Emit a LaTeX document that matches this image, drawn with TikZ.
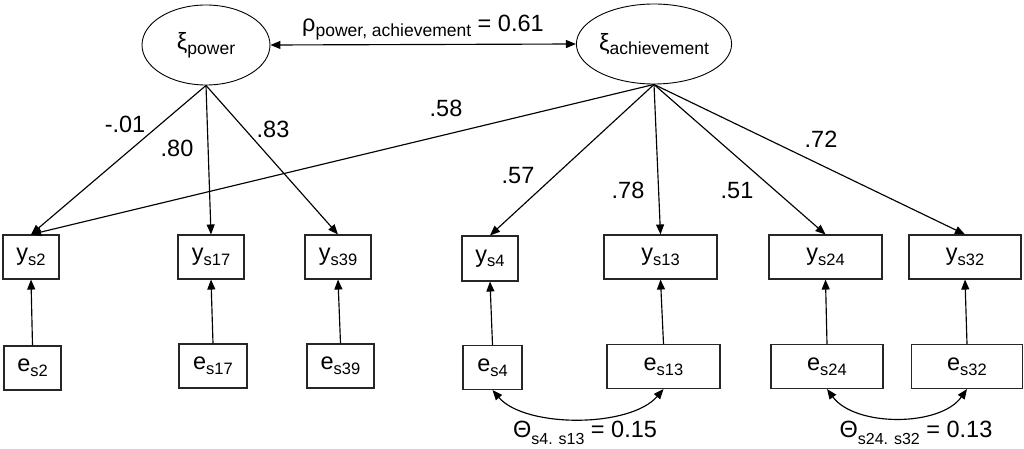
\documentclass[tikz,border=0pt]{standalone}
\usepackage{fontspec}
\setmainfont{Liberation Sans}
\usetikzlibrary{shapes.geometric,arrows.meta}
\newcommand{\sbs}[1]{\raisebox{-0.2em}{\fontsize{16.5}{17}\selectfont #1}}
\newcommand{\sbl}[1]{\raisebox{-0.2em}{\fontsize{17.5}{18}\selectfont #1}}
\newcommand{\sbt}[1]{\raisebox{-0.33em}{\fontsize{16}{16}\selectfont #1}}
\begin{document}
\begin{tikzpicture}[x=1pt,y=-1pt,
  font=\fontsize{23.5}{26}\selectfont,
  lat/.style={draw, ellipse, line width=0.9pt, minimum width=128pt, minimum height=80pt, inner sep=0pt},
  obs/.style={draw=black!85, line width=1.1pt, minimum height=44pt, inner sep=0pt},
  arr/.style={-{Triangle[length=10pt,width=8pt]}, line width=1.15pt},
  darr/.style={{Triangle[length=10pt,width=8pt]}-{Triangle[length=10pt,width=8pt]}, line width=1.15pt},
  lab/.style={anchor=base, inner sep=0pt}]
\useasboundingbox (0,0) rectangle (1024,449);

% latent variables
\node[lat] (xp) at (206,45) {ξ\sbl{power}};
\node[lat] (xa) at (654,44) {ξ\sbl{achievement}};

% indicators
\node[obs, minimum width=56pt] (ys2)  at (31,257)  {y\sbs{s2}};
\node[obs, minimum width=66pt] (ys17) at (211,257) {y\sbs{s17}};
\node[obs, minimum width=66pt] (ys39) at (338,257) {y\sbs{s39}};
\node[obs, minimum width=56pt, minimum height=45pt] (ys4) at (490,258.5) {y\sbs{s4}};
\node[obs, minimum width=113pt] (ys13) at (660.5,257) {y\sbs{s13}};
\node[obs, minimum width=113pt] (ys24) at (825.5,257) {y\sbs{s24}};
\node[obs, minimum width=112pt] (ys32) at (965,257) {y\sbs{s32}};

% errors
\node[obs, minimum width=57pt] (es2)  at (32.5,368) {e\sbs{s2}};
\node[obs, minimum width=68pt] (es17) at (213,366) {e\sbs{s17}};
\node[obs, minimum width=67pt] (es39) at (340.5,366) {e\sbs{s39}};
\node[obs, minimum width=59pt] (es4)  at (492.5,367.5) {e\sbs{s4}};
\node[obs, minimum width=113pt] (es13) at (663.5,366.5) {e\sbs{s13}};
\node[obs, minimum width=112pt] (es24) at (827,366.5) {e\sbs{s24}};
\node[obs, minimum width=111pt] (es32) at (967,366.5) {e\sbs{s32}};

% correlation between latents
\draw[darr] (xp.east) -- (xa.west);
\node[lab, anchor=base west] (rho) at (302,32) {ρ\sbl{power, achievement} = 0.61};

% loadings
\draw[arr] (xp.south) -- (ys2.north);
\draw[arr] (xp.south) -- (ys17.north);
\draw[arr] (xp.south) -- (ys39.north);
\draw[arr] (xa.south) -- (ys2.north);
\draw[arr] (xa.south) -- (ys4.north);
\draw[arr] (xa.south) -- (ys13.north);
\draw[arr] (xa.south) -- (ys24.north);
\draw[arr] (xa.south) -- (ys32.north);

\node[lab] (l1) at (125,133) {-.01};
\node[lab] (l2) at (177,157) {.80};
\node[lab] (l3) at (273,138) {.83};
\node[lab] (l4) at (446,117) {.58};
\node[lab] (l5) at (518,183) {.57};
\node[lab] (l6) at (628,198) {.78};
\node[lab] (l7) at (737,198) {.51};
\node[lab] (l8) at (821,148) {.72};

% errors to indicators
\draw[arr] (es2.north) -- (ys2.south);
\draw[arr] (es17.north) -- (ys17.south);
\draw[arr] (es39.north) -- (ys39.south);
\draw[arr] (es4.north) -- (ys4.south);
\draw[arr] (es13.north) -- (ys13.south);
\draw[arr] (es24.north) -- (ys24.south);
\draw[arr] (es32.north) -- (ys32.south);

% error covariances
\draw[darr] (es4.south) .. controls (525,428) and (630,428) .. (es13.south);
\draw[darr] (es24.south) .. controls (855,427) and (940,427) .. (es32.south);
\node[lab] (t1) at (585,437) {Θ\sbt{s4. s13} = 0.15};
\node[lab] (t2) at (916,437) {Θ\sbt{s24. s32} = 0.13};
\end{tikzpicture}
\end{document}
